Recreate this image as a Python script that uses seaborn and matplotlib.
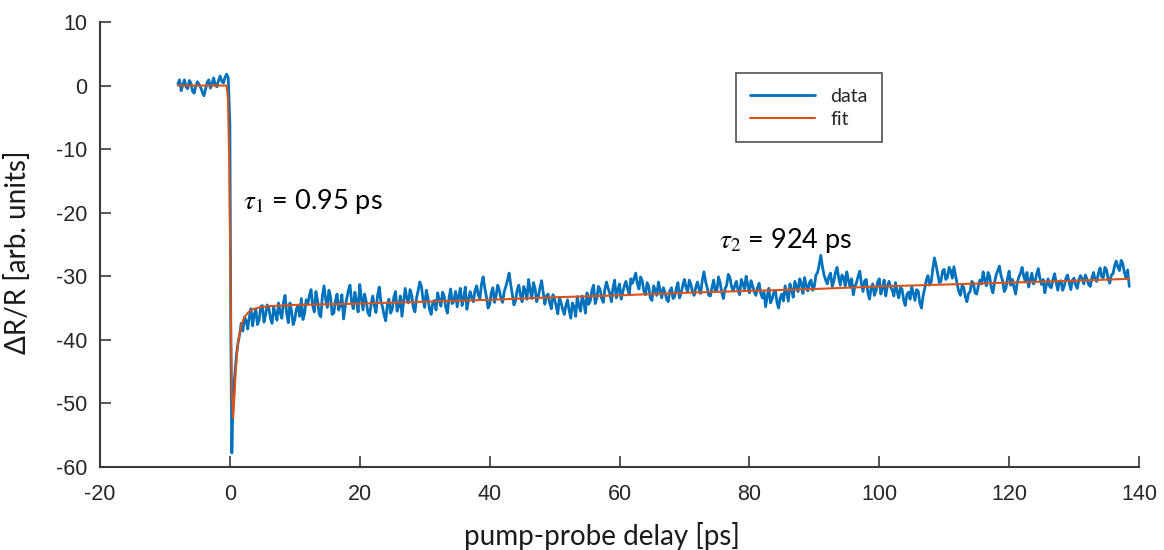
"""
Pump-probe transient reflectivity with biexponential fit
Output: out.png
"""
import matplotlib
matplotlib.use('Agg')
import matplotlib.pyplot as plt
import seaborn as sns
import pandas as pd
import numpy as np

# --- data ---
pre_delay = np.arange(-8.0, -0.4, 0.5)
pre_signal = [0.3, -0.8, 0.9, -0.5, 0.4, -1.2, 0.6, -0.3, -1.6, 0.5, -0.4, 1.2, -0.2, 1.5, 0.4, 1.8]
pre_delay_mid = np.arange(-7.75, -0.6, 0.5)
pre_signal_mid = [0.9, 0.1, -0.2, 0.8, -0.9, -0.1, 0.2, -1.0, -0.6, 0.9, 0.3, 0.1, 0.8, 0.7, 1.3]

zero_delay = [-0.25, 0.0, 0.15, 0.3, 0.45, 0.6, 0.8, 1.0, 1.25, 1.5, 1.75]
zero_signal = [1.2, -6.0, -40.0, -57.8, -51.0, -47.5, -45.0, -42.5, -40.5, -39.2, -37.4]

post_delay = np.arange(2.0, 138.6, 0.5)
post_signal = [
    -38.6, -37.0, -36.3, -37.8, -35.2, -36.9, -34.6, -36.1, -35.0, -37.4, -35.8, -34.2, -36.6, -33.0, -37.3, -35.5, -36.8, -34.7, -33.5, -35.9,
    -34.4, -32.1, -35.6, -33.8, -36.4, -31.5, -34.9, -33.2, -35.8, -32.8, -34.6, -36.7, -33.5, -31.4, -35.1, -33.9, -31.3, -35.3, -34.0, -36.2,
    -33.1, -35.7, -31.7, -34.8, -37.0, -33.6, -35.2, -32.4, -34.7, -36.3, -31.9, -34.2, -33.0, -35.6, -32.2, -31.6, -34.9, -33.4, -36.0, -33.8,
    -32.6, -34.7, -33.1, -35.8, -32.0, -33.9, -34.8, -31.9, -33.5, -35.2, -32.4, -34.0, -31.5, -33.6, -30.1, -33.2, -34.5, -31.8, -33.0, -32.2,
    -34.1, -31.6, -29.5, -32.9, -33.8, -31.4, -34.0, -32.3, -30.5, -33.5, -31.9, -33.2, -30.7, -34.4, -32.8, -35.1, -33.6, -35.9, -34.2, -36.0,
    -33.7, -36.6, -34.8, -33.2, -35.5, -34.0, -32.6, -33.9, -31.4, -33.5, -32.0, -34.1, -30.9, -32.7, -31.8, -33.4, -31.2, -32.5, -30.8, -32.9,
    -31.1, -29.5, -32.0, -30.7, -32.9, -31.6, -33.8, -32.1, -30.9, -33.4, -32.5, -34.0, -31.8, -33.2, -31.0, -32.6, -30.5, -32.4, -31.3, -33.0,
    -30.9, -32.7, -29.3, -31.8, -33.1, -30.6, -32.2, -31.0, -33.5, -31.4, -30.2, -32.3, -30.8, -32.9, -31.2, -30.0, -32.6, -31.5, -33.0, -31.1,
    -33.4, -34.8, -31.9, -33.6, -32.2, -35.0, -32.8, -31.5, -33.9, -32.1, -30.8, -32.4, -31.1, -30.2, -32.3, -30.6, -31.6, -29.4, -26.7, -29.8,
    -31.2, -29.5, -30.8, -28.6, -31.4, -30.1, -29.3, -31.7, -32.9, -31.0, -29.2, -32.4, -30.5, -33.6, -31.2, -32.3, -30.4, -31.9, -33.1, -30.8,
    -32.2, -31.0, -33.4, -32.0, -34.6, -32.5, -31.6, -33.8, -32.3, -35.0, -31.9, -29.9, -30.9, -27.1, -29.6, -30.8, -28.9, -30.2, -29.1, -28.5,
    -31.2, -33.0, -31.7, -34.0, -32.4, -31.1, -32.8, -30.6, -29.3, -31.5, -30.0, -32.6, -29.8, -28.4, -30.7, -31.9, -29.2, -30.5, -32.8, -30.1,
    -28.6, -30.9, -31.7, -29.5, -30.8, -28.8, -31.3, -32.6, -30.4, -31.8, -29.6, -32.2, -30.7, -31.5, -29.8, -32.1, -30.3, -31.9, -29.9, -31.2,
    -30.5, -31.6, -29.4, -30.8, -28.7, -30.2, -29.0, -31.1, -29.6, -27.6, -29.1, -28.0, -30.2, -31.6,
]
post_delay_mid = np.arange(2.25, 138.3, 0.5)
post_signal_mid = [
    -36.4, -38.3, -35.1, -36.0, -37.6, -34.8, -37.2, -34.5, -36.6, -34.9, -36.9, -35.7, -34.1, -35.9, -34.2, -37.6, -35.1, -36.3, -36.8, -33.7,
    -33.0, -34.6, -32.4, -35.9, -33.1, -33.6, -32.2, -36.0, -33.9, -35.3, -32.9, -34.8, -32.2, -34.0, -32.5, -35.6, -33.4, -32.8, -35.7, -34.4,
    -34.6, -33.0, -33.9, -36.1, -34.5, -35.8, -33.3, -35.5, -33.1, -34.0, -33.5, -32.1, -34.9, -33.4, -30.9, -33.7, -32.2, -35.2, -34.1, -35.3,
    -33.8, -32.5, -34.9, -33.4, -34.3, -32.4, -33.0, -34.6, -31.7, -33.7, -33.3, -32.2, -32.9, -31.2, -31.8, -35.0, -32.6, -34.1, -31.4, -33.5,
    -32.4, -30.6, -31.3, -34.5, -32.1, -33.0, -31.6, -33.6, -32.2, -31.0, -34.0, -31.8, -32.5, -33.1, -34.2, -32.9, -34.7, -33.3, -35.2, -34.6,
    -35.4, -34.2, -36.3, -34.6, -33.1, -35.8, -34.4, -32.2, -34.3, -31.6, -33.5, -32.0, -31.9, -34.0, -30.6, -32.1, -33.6, -31.5, -32.0, -30.4,
    -30.3, -31.2, -30.1, -32.3, -31.0, -33.4, -31.5, -33.0, -32.2, -31.8, -33.6, -32.3, -33.5, -31.9, -33.4, -31.4, -31.8, -30.6, -32.5, -31.7,
    -32.0, -30.6, -30.8, -33.0, -31.7, -32.4, -30.1, -32.6, -32.0, -29.7, -31.6, -31.5, -32.2, -30.5, -32.0, -31.4, -30.7, -32.4, -31.8, -32.7,
    -32.5, -33.1, -34.2, -32.6, -34.1, -33.4, -33.9, -32.7, -31.2, -33.3, -31.6, -30.4, -32.7, -31.4, -31.0, -32.2, -29.8, -28.2, -28.5, -30.6,
    -30.0, -31.6, -29.4, -30.2, -29.8, -31.5, -30.6, -30.4, -31.6, -30.0, -31.1, -30.7, -32.6, -31.8, -33.0, -30.9, -32.8, -30.6, -31.5, -31.7,
    -33.1, -32.4, -31.8, -33.7, -32.9, -33.6, -32.7, -32.1, -34.2, -33.1, -30.6, -31.4, -28.8, -28.3, -31.0, -29.2, -30.5, -28.6, -30.3, -29.9,
    -32.4, -31.5, -33.2, -32.7, -30.8, -32.6, -31.6, -31.2, -30.6, -29.4, -31.8, -31.0, -29.1, -29.9, -32.4, -30.3, -31.4, -31.7, -31.0, -29.5,
    -30.0, -29.4, -30.6, -31.2, -29.6, -30.4, -30.5, -31.3, -31.6, -30.5, -31.0, -30.8, -32.2, -30.3, -31.0, -30.6, -31.4, -30.5, -30.4, -29.8,
    -31.3, -30.2, -30.6, -29.5, -30.1, -28.6, -30.4, -29.8, -28.3, -28.6, -27.5, -29.4, -29.0,
]

fit_delay = [-8, -0.5, -0.3, -0.1, 0.1, 0.3, 0.5, 0.7, 0.9, 1.1, 1.4, 1.8, 2.2, 2.8, 3.5, 4.5,
             6, 8, 10, 15, 20, 30, 40, 50, 60, 70, 80, 90, 100, 110, 120, 130, 138.5]
fit_signal = [0, 0, -2, -12, -32, -48, -52.3, -49, -45, -42, -39.5, -37.6, -36.5, -35.7, -35.2, -34.9,
              -34.7, -34.6, -34.5, -34.4, -34.3, -34.0, -33.7, -33.3, -33.0, -32.6, -32.3, -32.0,
              -31.6, -31.3, -31.0, -30.7, -30.4]

x_ticks = [-20, 0, 20, 40, 60, 80, 100, 120, 140]
y_ticks = [-60, -50, -40, -30, -20, -10, 0, 10]

df_data = pd.DataFrame({
    'delay': np.concatenate([pre_delay, pre_delay_mid, zero_delay, post_delay, post_delay_mid]),
    'signal': np.concatenate([pre_signal, pre_signal_mid, zero_signal, post_signal, post_signal_mid]),
}).sort_values('delay')
df_fit = pd.DataFrame({'delay': fit_delay, 'signal': fit_signal})

sns.set_style('white')
plt.rcParams.update({
    'font.family': ['Liberation Sans', 'DejaVu Sans'],
    'mathtext.fontset': 'stix',
    'axes.unicode_minus': False,
    'axes.edgecolor': '#3a3a3a',
})

fig = plt.figure(figsize=(11.64, 5.5), dpi=100)
ax = fig.add_axes([100 / 1164, 83 / 550, 1039 / 1164, 445 / 550])

sns.lineplot(data=df_data, x='delay', y='signal', ax=ax, color='#0072BD',
             linewidth=2.0, estimator=None, sort=False, label='data')
sns.lineplot(data=df_fit, x='delay', y='signal', ax=ax, color='#D95319',
             linewidth=1.5, estimator=None, sort=False, label='fit')

ax.set_xlim(-20, 140)
ax.set_ylim(-60, 10)
ax.set_xticks(x_ticks)
ax.set_yticks(y_ticks)
ax.tick_params(direction='in', length=8, width=1.2, labelsize=15.5,
               bottom=True, left=True, color='#3a3a3a', labelcolor='#262626')
ax.tick_params(axis='x', pad=12)
ax.tick_params(axis='y', pad=9)
for s in ['top', 'right']:
    ax.spines[s].set_visible(False)
for s in ['left', 'bottom']:
    ax.spines[s].set_linewidth(1.5)

ax.set_xlabel('pump-probe delay [ps]', family='Lato', fontsize=20, color='#1a1a1a')
ax.set_ylabel('ΔR/R [arb. units]', family='Lato', fontsize=20, color='#1a1a1a')
ax.xaxis.set_label_coords(0.483, -0.124)
ax.yaxis.set_label_coords(-0.066, 0.483)

ax.text(2.0, -18.3, r'$\tau_1$ = 0.95 ps', family='Lato', fontsize=19.5, va='center', color='black')
ax.text(75.3, -24.3, r'$\tau_2$ = 924 ps', family='Lato', fontsize=19.5, va='center', color='black')

leg = ax.legend(loc='upper left', bbox_to_anchor=(0.612, 0.885), frameon=True, fancybox=False,
                prop={'family': 'Lato', 'size': 14}, handlelength=3.3, borderpad=0.75,
                labelspacing=0.3, handletextpad=0.8, borderaxespad=0)
leg.get_frame().set_edgecolor('#262626')
leg.get_frame().set_linewidth(1.2)

plt.savefig('out.png', dpi=100, facecolor='white')
plt.close()
